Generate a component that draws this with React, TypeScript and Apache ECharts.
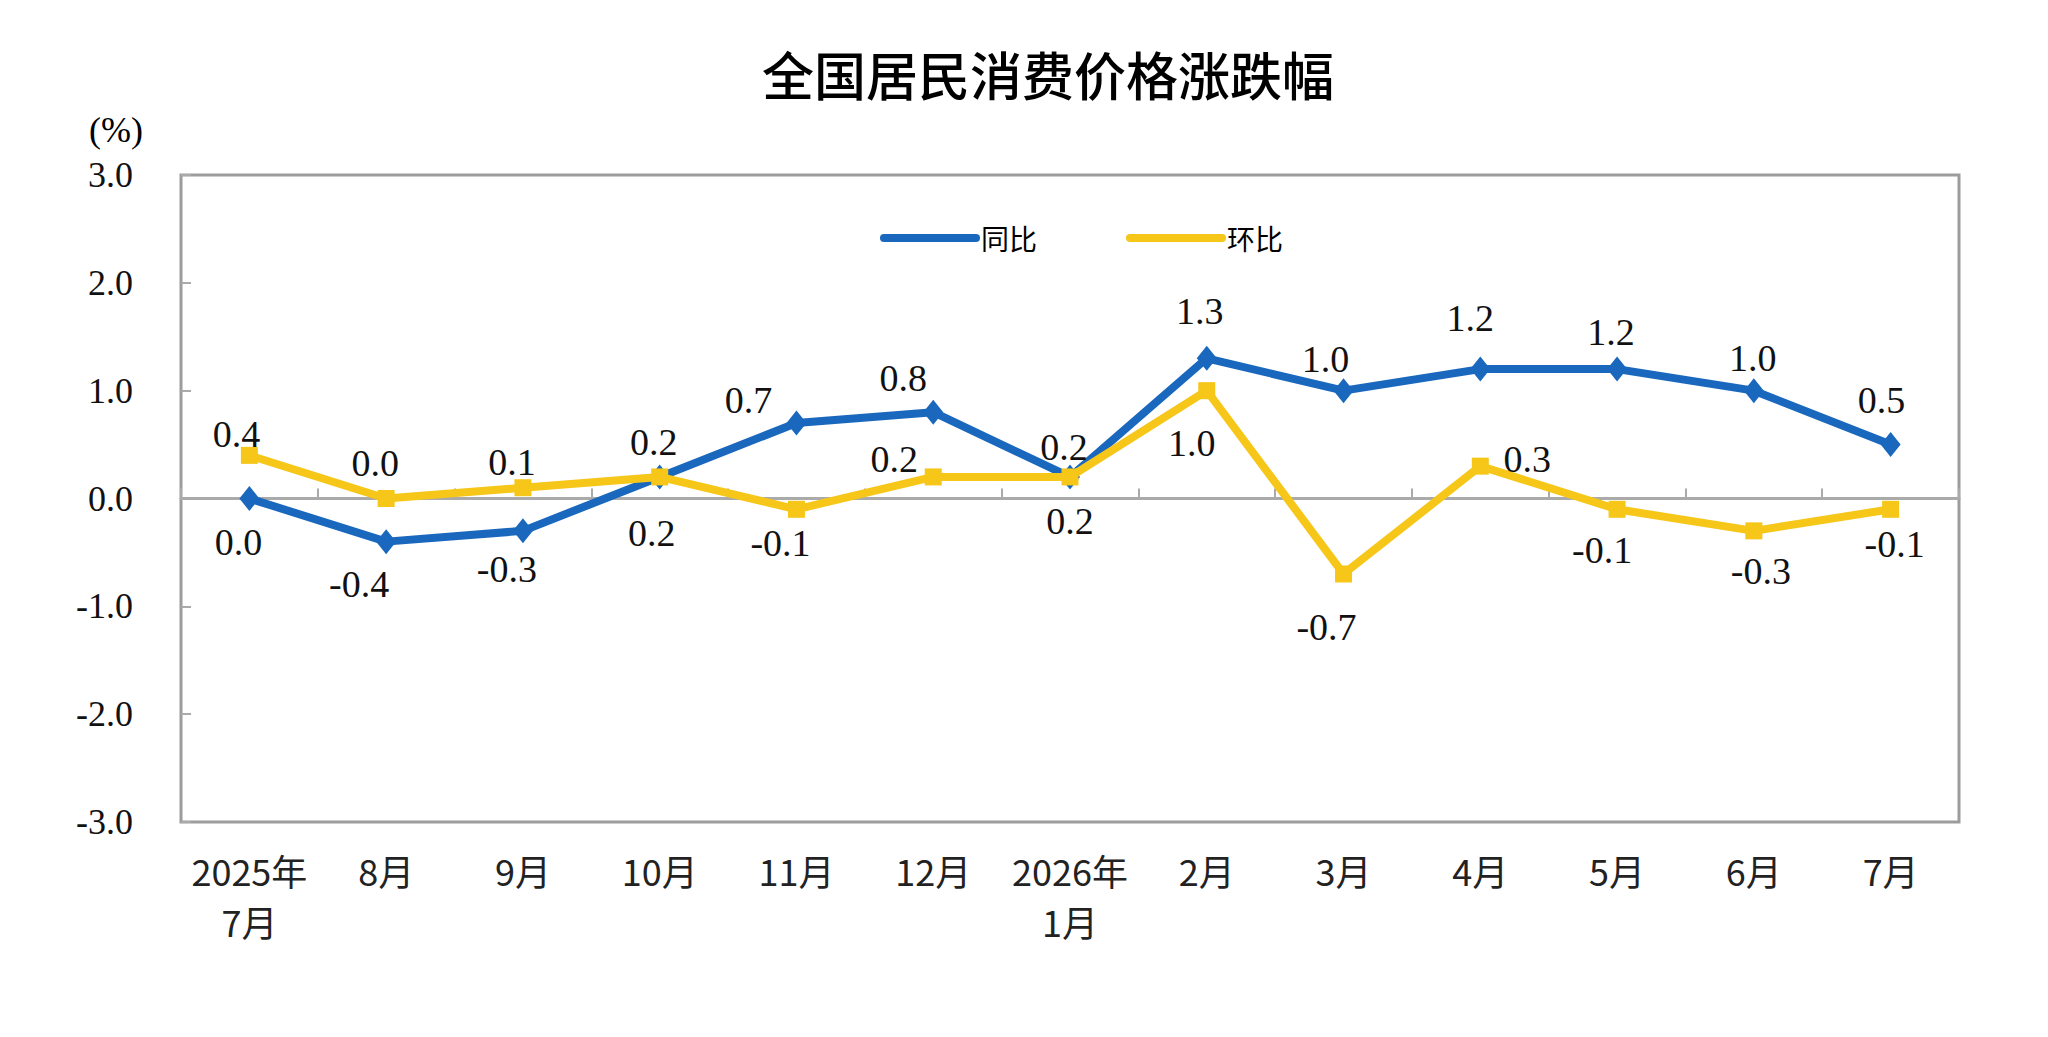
import React, { useEffect, useRef } from 'react';
import * as echarts from 'echarts';

const titleText = '全国居民消费价格涨跌幅';
const unitText = '(%)';
const categories = ['2025年\n7月', '8月', '9月', '10月', '11月', '12月', '2026年\n1月', '2月', '3月', '4月', '5月', '6月', '7月'];
const seriesNames = ['同比', '环比'];
const yoyValues = [0.0, -0.4, -0.3, 0.2, 0.7, 0.8, 0.2, 1.3, 1.0, 1.2, 1.2, 1.0, 0.5];
const momValues = [0.4, 0.0, 0.1, 0.2, -0.1, 0.2, 0.2, 1.0, -0.7, 0.3, -0.1, -0.3, -0.1];
const yMin = -3;
const yMax = 3;
const yInterval = 1;

// label offsets (px) from each marker centre
const yoyLabelOffsets = [[-11, 43], [-27, 42], [-16, 38], [-8, 56], [-48, -23], [-30, -34], [-6, -30], [-7, -47], [-18, -32], [-10, -51], [-6, -37], [-1, -33], [-9, -45]];
const momLabelOffsets = [[-13, -21], [-11, -36], [-11, -26], [-6, -35], [-16, 34], [-39, -18], [0, 44], [-15, 52], [-17, 53], [47, -7], [-15, 41], [7, 40], [4, 35]];

const BLUE = '#1a68be';
const YELLOW = '#f6c619';
const SERIF = "'Liberation Serif', 'Times New Roman', serif";
const CJK = "'Noto Sans CJK SC', sans-serif";

function buildData(values: number[], offsets: number[][]) {
  return values.map((v, i) => ({
    value: v,
    label: { offset: offsets[i] },
  }));
}

export default function App() {
  const ref = useRef<HTMLDivElement>(null);
  useEffect(() => {
    if (!ref.current) return;
    const chart = echarts.init(ref.current, null, { renderer: 'svg' });
    const labelBase = {
      show: true,
      position: 'inside',
      align: 'center',
      verticalAlign: 'middle',
      fontFamily: SERIF,
      fontSize: 38,
      color: '#111',
      formatter: (p: any) => Number(p.value).toFixed(1),
    };
    chart.setOption({
      animation: false,
      backgroundColor: '#ffffff',
      graphic: [
        {
          type: 'text',
          x: 1048,
          y: 73,
          style: {
            text: titleText,
            fontFamily: CJK,
            fontSize: 52,
            fontWeight: 500,
            fill: '#000',
            textAlign: 'center',
            textVerticalAlign: 'middle',
          },
        },
        {
          type: 'text',
          x: 116,
          y: 130,
          style: {
            text: unitText,
            fontFamily: SERIF,
            fontSize: 36,
            fill: '#000',
            textAlign: 'center',
            textVerticalAlign: 'middle',
          },
        },
      ],
      legend: {
        data: seriesNames,
        left: 880,
        top: 224,
        itemWidth: 92,
        itemHeight: 10,
        itemGap: 89,
        padding: 0,
        lineStyle: { width: 8, cap: 'round' },
        textStyle: { fontFamily: CJK, fontSize: 28, color: '#000' },
      },
      grid: {
        left: 181,
        right: 89,
        top: 175,
        bottom: 215,
        show: true,
        borderColor: '#9c9c9c',
        borderWidth: 3,
        backgroundColor: '#fff',
      },
      xAxis: [
        {
          type: 'category',
          data: categories,
          position: 'bottom',
          boundaryGap: true,
          axisLine: { show: false, onZero: false },
          axisTick: { show: false },
          axisLabel: {
            interval: 0,
            margin: 22,
            fontFamily: CJK,
            fontSize: 36,
            lineHeight: 51,
            color: '#222',
          },
          splitLine: { show: false },
        },
        {
          type: 'category',
          data: categories,
          position: 'bottom',
          boundaryGap: true,
          axisLine: { show: true, onZero: true, lineStyle: { color: '#aaaaaa', width: 3 } },
          axisTick: { show: true, inside: true, length: 10, lineStyle: { color: '#aaaaaa', width: 2 } },
          axisLabel: { show: false },
          splitLine: { show: false },
        },
      ],
      yAxis: {
        type: 'value',
        min: yMin,
        max: yMax,
        interval: yInterval,
        axisLine: { show: false },
        axisTick: { show: true, inside: true, length: 10, lineStyle: { color: '#aaaaaa', width: 2 } },
        splitLine: { show: false },
        axisLabel: {
          margin: 48,
          fontFamily: SERIF,
          fontSize: 36,
          color: '#111',
          formatter: (v: number) => v.toFixed(1),
        },
      },
      series: [
        {
          name: seriesNames[0],
          type: 'line',
          xAxisIndex: 0,
          data: buildData(yoyValues, yoyLabelOffsets),
          symbol: 'diamond',
          symbolSize: [20, 25],
          color: BLUE,
          lineStyle: { color: BLUE, width: 8 },
          itemStyle: { color: BLUE },
          label: labelBase,
          z: 3,
        },
        {
          name: seriesNames[1],
          type: 'line',
          xAxisIndex: 0,
          data: buildData(momValues, momLabelOffsets),
          symbol: 'rect',
          symbolSize: 17,
          color: YELLOW,
          lineStyle: { color: YELLOW, width: 8 },
          itemStyle: { color: YELLOW },
          label: labelBase,
          z: 4,
        },
      ],
    });
    return () => chart.dispose();
  }, []);
  return <div ref={ref} style={{ position: 'fixed', left: 0, top: 0, width: 2048, height: 1037, background: '#fff' }} />;
}
